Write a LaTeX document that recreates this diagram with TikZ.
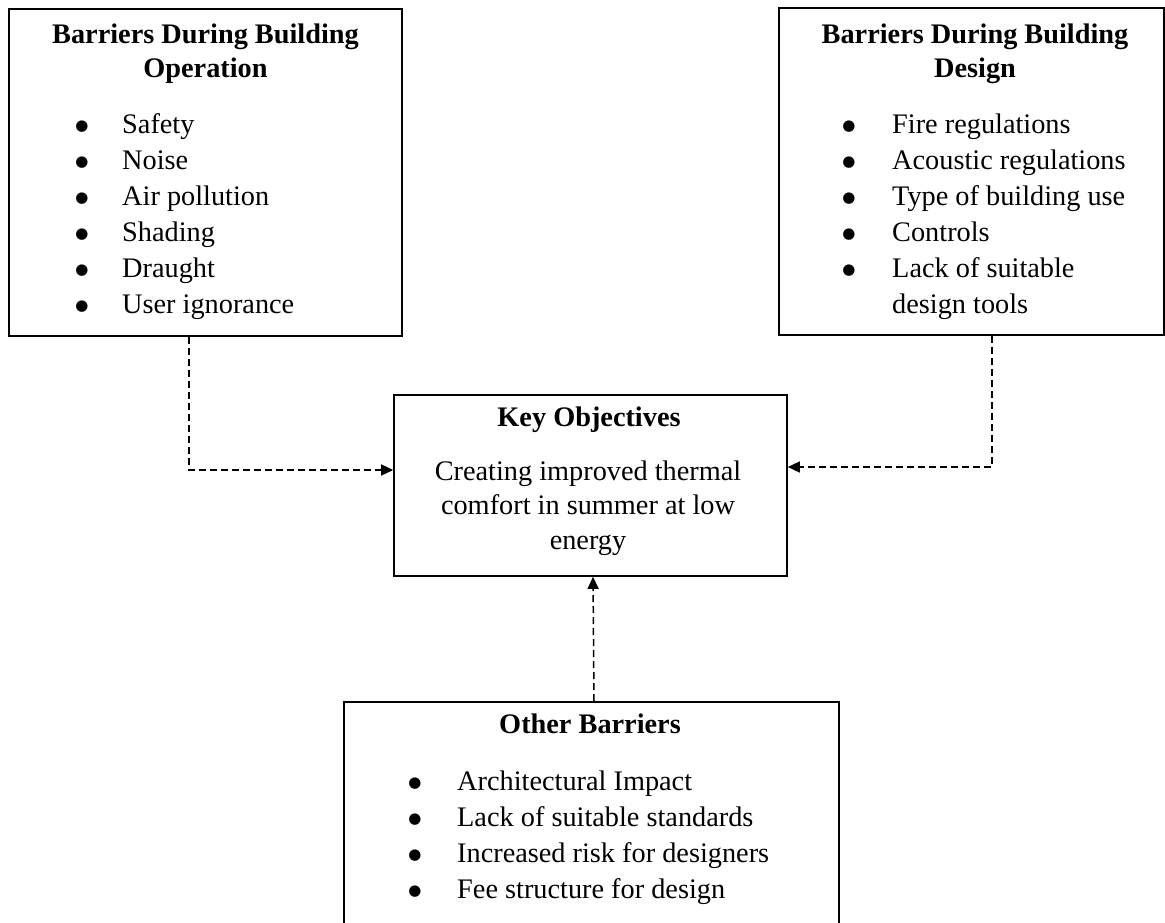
\documentclass[tikz,border=0pt]{standalone}
\usepackage{fontspec}
\setmainfont{Liberation Serif}
\newfontfamily\symfnt{DejaVu Sans}
\usetikzlibrary{arrows.meta}
\tikzset{
  box/.style={draw, line width=1.6pt, inner sep=0pt},
  txt/.style={inner sep=0pt, anchor=base, font=\fontsize{28.3}{34}\selectfont},
  ttl/.style={txt, font=\fontsize{28.3}{34}\selectfont\bfseries},
  itm/.style={txt, anchor=base west},
  bul/.style={inner sep=0pt, anchor=base, font=\symfnt\fontsize{15}{15}\selectfont},
  conn/.style={line width=1.5pt, dash pattern=on 7pt off 4pt, -{Triangle[length=12pt,width=11pt]}},
}
\begin{document}
\begin{tikzpicture}[x=1pt,y=-1pt]
\useasboundingbox (0,0) rectangle (1165,922);
\clip (0,0) rectangle (1165,922);
% boxes
\node[box, minimum width=393pt, minimum height=327pt] (op) at (205.5,172.5) {};
\node[box, minimum width=385pt, minimum height=327pt] (des) at (971.5,171.5) {};
\node[box, minimum width=393pt, minimum height=181pt] (key) at (590.5,485.5) {};
\node[box, minimum width=495pt, minimum height=258pt] (oth) at (591.5,831) {};
% operation box
\node[ttl] (opt1) at (205.5,43.5) {Barriers During Building};
\node[ttl] (opt2) at (205.5,77) {Operation};
\foreach \t [count=\i] in {Safety, Noise, Air pollution, Shading, Draught, User ignorance} {
  \node[bul] (opb\i) at (82,{130+36*(\i-1)}) {●};
  \node[itm] (opi\i) at (122,{133.3+36*(\i-1)}) {\t};
}
% design box
\node[ttl] (dst1) at (975,43.5) {Barriers During Building};
\node[ttl] (dst2) at (975,77) {Design};
\foreach \t [count=\i] in {Fire regulations, Acoustic regulations, Type of building use, Controls, Lack of suitable} {
  \node[bul] (dsb\i) at (849,{130+36*(\i-1)}) {●};
  \node[itm] (dsi\i) at (892,{133.3+36*(\i-1)}) {\t};
}
\node[itm] (dsi6) at (892,313.3) {design tools};
% key objectives
\node[ttl] (kyt) at (589,426.7) {Key Objectives};
\node[txt] (ky1) at (588,480) {Creating improved thermal};
\node[txt] (ky2) at (588,514.5) {comfort in summer at low};
\node[txt] (ky3) at (588,549) {energy};
% other barriers
\node[ttl] (ott) at (590,733) {Other Barriers};
\foreach \t [count=\i] in {Architectural Impact, Lack of suitable standards, Increased risk for designers, Fee structure for design} {
  \node[bul] (otb\i) at (415,{787+36*(\i-1)}) {●};
  \node[itm] (oti\i) at (457,{790+36*(\i-1)}) {\t};
}
% connectors
\draw[conn] ([xshift=-16.5pt]op.south) |- ([yshift=15.5pt]key.west);
\draw[conn] ([xshift=20.5pt]des.south) |- ([yshift=18.5pt]key.east);
\draw[conn] ([xshift=2.5pt]oth.north) -- ([xshift=2.5pt]key.south);
\end{tikzpicture}
\end{document}
